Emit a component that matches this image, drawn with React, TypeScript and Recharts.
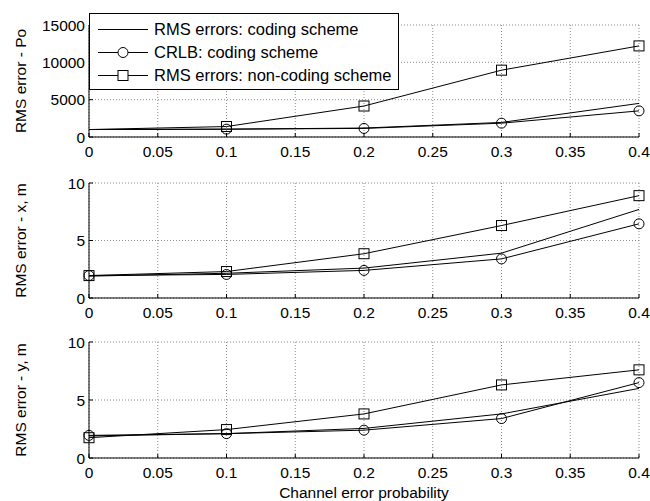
import React from 'react';
import { LineChart, Line, XAxis, YAxis, CartesianGrid, Legend } from 'recharts';

const probability = [0, 0.1, 0.2, 0.3, 0.4];

const poCoding = [1000, 1050, 1200, 1950, 4500];
const poCrlb = [1000, 1050, 1150, 1850, 3500];
const poNonCoding = [1000, 1400, 4150, 8950, 12200];

const xCoding = [1.9, 2.15, 2.6, 3.9, 7.7];
const xCrlb = [1.95, 2.05, 2.4, 3.4, 6.45];
const xNonCoding = [1.95, 2.3, 3.85, 6.3, 8.9];

const yCoding = [1.9, 2.1, 2.55, 3.8, 6.0];
const yCrlb = [1.95, 2.1, 2.4, 3.4, 6.5];
const yNonCoding = [1.75, 2.45, 3.8, 6.3, 7.6];

const xTicks = [0, 0.05, 0.1, 0.15, 0.2, 0.25, 0.3, 0.35, 0.4];
const poTicks = [0, 5000, 10000, 15000];
const mTicks = [0, 5, 10];

const seriesOrder = ['coding', 'crlb', 'nonCoding'];
const seriesNames = {
  coding: 'RMS errors: coding scheme',
  crlb: 'CRLB: coding scheme',
  nonCoding: 'RMS errors: non-coding scheme',
};

const FONT = '"Liberation Sans", Arial, sans-serif';
const tickStyle = { fill: '#000', fontSize: 15.5, fontFamily: FONT };

const buildRows = (coding: number[], crlb: number[], nonCoding: number[]) =>
  probability.map((p, i) => ({ p, coding: coding[i], crlb: crlb[i], nonCoding: nonCoding[i] }));

const poData = buildRows(poCoding, poCrlb, poNonCoding);
const xData = buildRows(xCoding, xCrlb, xNonCoding);
const yData = buildRows(yCoding, yCrlb, yNonCoding);

// markers (first point hidden in the top panel, like the original)
const makeDot = (shape: 'circle' | 'square', skipFirst: boolean) => (props: any) => {
  const { cx, cy, index } = props;
  if ((skipFirst && index === 0) || cx == null || cy == null) return <g key={`e-${index}`} />;
  if (shape === 'circle') {
    return <circle key={`c-${index}`} cx={cx} cy={cy} r={5} fill="none" stroke="#000" strokeWidth={1} />;
  }
  return <rect key={`s-${index}`} x={cx - 5} y={cy - 5} width={10} height={10} fill="none" stroke="#000" strokeWidth={1} />;
};

const yLabel = (text: string) => (props: any) => {
  const vb = props.viewBox || {};
  const cy = vb.y + vb.height / 2;
  return (
    <text
      x={20}
      y={cy}
      transform={`rotate(-90, 20, ${cy})`}
      textAnchor="middle"
      dominantBaseline="central"
      fill="#000"
      fontSize={15.5}
      fontFamily={FONT}
    >
      {text}
    </text>
  );
};

const LegendBox = (props: any) => {
  const items = [...(props.payload || [])].sort(
    (a: any, b: any) => seriesOrder.indexOf(a.dataKey) - seriesOrder.indexOf(b.dataKey)
  );
  return (
    <div
      style={{
        width: 310,
        height: 77,
        boxSizing: 'border-box',
        border: '1px solid #000',
        background: '#fff',
        paddingTop: 4,
        fontFamily: FONT,
        fontSize: 16.5,
        color: '#000',
      }}
    >
      {items.map((entry: any) => {
        const key = entry.dataKey;
        return (
          <div key={key} style={{ display: 'flex', alignItems: 'center', height: 23 }}>
            <svg width={62} height={23} style={{ flexShrink: 0 }}>
              <line x1={8} y1={11.5} x2={58} y2={11.5} stroke="#000" strokeWidth={1} />
              {key === 'crlb' && <circle cx={33} cy={11.5} r={5} fill="#fff" stroke="#000" />}
              {key === 'nonCoding' && <rect x={28} y={6.5} width={10} height={10} fill="#fff" stroke="#000" />}
            </svg>
            <span style={{ marginLeft: 2, whiteSpace: 'nowrap' }}>{entry.value}</span>
          </div>
        );
      })}
    </div>
  );
};

type PanelProps = {
  data: any[];
  top: number;
  height: number;
  marginTop: number;
  axisHeight: number;
  yDomain: number[];
  yTicks: number[];
  title: string;
  skipFirst?: boolean;
  showLegend?: boolean;
  xTitle?: string;
};

const Panel: React.FC<PanelProps> = ({
  data, top, height, marginTop, axisHeight, yDomain, yTicks, title, skipFirst = false, showLegend = false, xTitle,
}) => (
  <div style={{ position: 'absolute', left: 0, top }}>
    <LineChart
      width={650}
      height={height}
      data={data}
      margin={{ top: marginTop, right: 11, left: 0, bottom: 0 }}
      style={{ fontFamily: FONT }}
    >
      <CartesianGrid stroke="#8c8c8c" strokeDasharray="1 2" />
      <XAxis
        dataKey="p"
        type="number"
        domain={[0, 0.4]}
        ticks={xTicks}
        interval={0}
        height={axisHeight}
        tick={tickStyle}
        tickSize={-4}
        tickMargin={13}
        axisLine={{ stroke: '#000' }}
        tickLine={{ stroke: '#000' }}
        label={xTitle ? { value: xTitle, position: 'insideBottom', offset: 3, fill: '#000', fontSize: 15.5, fontFamily: FONT } : undefined}
      />
      <XAxis
        xAxisId="top"
        orientation="top"
        dataKey="p"
        type="number"
        domain={[0, 0.4]}
        ticks={xTicks}
        interval={0}
        height={0}
        tick={false}
        tickSize={-4}
        axisLine={{ stroke: '#000' }}
        tickLine={{ stroke: '#000' }}
      />
      <YAxis
        type="number"
        domain={yDomain}
        ticks={yTicks}
        interval={0}
        width={89}
        tick={tickStyle}
        tickSize={-4}
        tickMargin={8}
        axisLine={{ stroke: '#000' }}
        tickLine={{ stroke: '#000' }}
        label={{ content: yLabel(title) }}
      />
      <YAxis
        yAxisId="right"
        orientation="right"
        type="number"
        domain={yDomain}
        ticks={yTicks}
        interval={0}
        width={0}
        tick={false}
        tickSize={-4}
        axisLine={{ stroke: '#000' }}
        tickLine={{ stroke: '#000' }}
      />
      {showLegend && (
        <Legend
          layout="horizontal"
          verticalAlign="middle"
          align="center"
          content={<LegendBox />}
          wrapperStyle={{ top: 13, left: 89, width: 310, height: 77 }}
        />
      )}
      <Line dataKey="coding" name={seriesNames.coding} stroke="#000" strokeWidth={1} dot={false} activeDot={false} isAnimationActive={false} />
      <Line dataKey="crlb" name={seriesNames.crlb} stroke="#000" strokeWidth={1} dot={makeDot('circle', skipFirst)} activeDot={false} isAnimationActive={false} />
      <Line dataKey="nonCoding" name={seriesNames.nonCoding} stroke="#000" strokeWidth={1} dot={makeDot('square', skipFirst)} activeDot={false} isAnimationActive={false} />
    </LineChart>
  </div>
);

export default function App() {
  return (
    <div style={{ position: 'absolute', left: 0, top: 0, width: 650, height: 501, background: '#fff' }}>
      <Panel data={poData} top={0} height={165} marginTop={25} axisHeight={28} yDomain={[0, 15000]} yTicks={poTicks} title="RMS error - Po" skipFirst showLegend />
      <Panel data={xData} top={165} height={160} marginTop={18} axisHeight={27} yDomain={[0, 10]} yTicks={mTicks} title="RMS error - x, m" />
      <Panel data={yData} top={325} height={176} marginTop={17} axisHeight={43} yDomain={[0, 10]} yTicks={mTicks} title="RMS error - y, m" xTitle="Channel error probability" />
    </div>
  );
}
